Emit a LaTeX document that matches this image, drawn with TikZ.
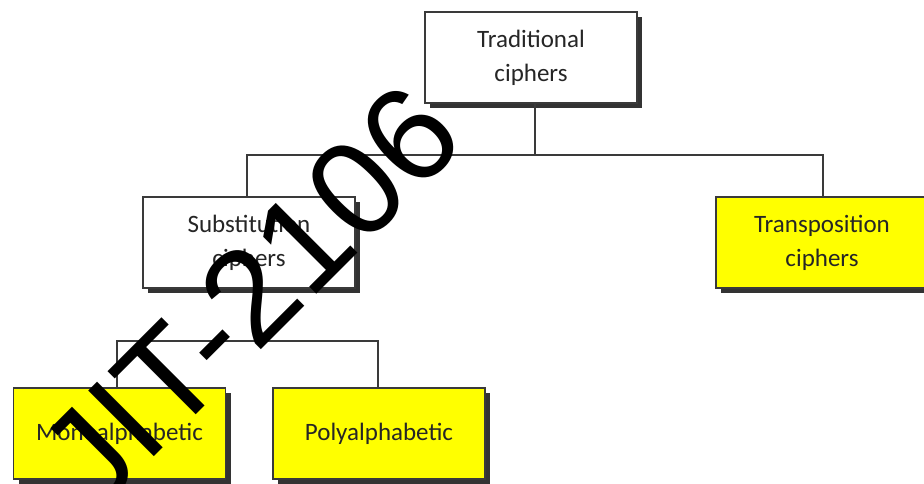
\documentclass[tikz,border=0pt]{standalone}
\usepackage{fontspec}
\setmainfont{Carlito}
\newfontfamily\markfont{Liberation Sans}
\usetikzlibrary{shadows}
\definecolor{boxline}{HTML}{3A3A3A}
\definecolor{boxtext}{HTML}{262626}
\definecolor{cipheryellow}{HTML}{FFFF00}
\tikzset{
  cbox/.style={draw=boxline, line width=1.2pt, minimum width=212pt, minimum height=91pt,
    inner sep=0pt, align=center, text=boxtext, font=\fontsize{25}{34}\selectfont,
    drop shadow={shadow xshift=5pt, shadow yshift=-5pt, fill=black!80, opacity=1}},
  plainbox/.style={cbox, fill=white},
  yellowbox/.style={cbox, fill=cipheryellow},
  link/.style={draw=boxline, line width=1.6pt}
}
\begin{document}
\begin{tikzpicture}[x=1pt, y=1pt]
  \clip (0,0) rectangle (924,484);
  \fill[white] (0,0) rectangle (924,484);

  % junction points of the two branch bars
  \coordinate (top) at (535,329);
  \coordinate (mid) at (247,143);

  % cipher boxes
  \node[plainbox] (trad) at (531,426.5) {Traditional\\ciphers};
  \node[plainbox] (subs) at (249,241.5) {Substitution\\ciphers};
  \node[yellowbox] (trans) at (822,241.5) {Transposition\\ciphers};
  \node[yellowbox] (mono) at (119.5,50.5) {Monoalphabetic};
  \node[yellowbox] (poly) at (379,50.5) {Polyalphabetic};

  % branch lines
  \draw[link] (trad.south -| top) -- (top);
  \draw[link] (top) -| ([xshift=-2pt]subs.north);
  \draw[link] (top) -| ([xshift=1pt]trans.north);
  \draw[link] ([xshift=-2.5pt]mono.north) |- (mid) -| ([xshift=-1pt]poly.north);

  % stamped mark across the chart
  \node[anchor=base, rotate=45, inner sep=0pt, text=black,
        font=\markfont\fontsize{135}{135}\selectfont] (stamp) at (283,156) {JIT-2106};
\end{tikzpicture}
\end{document}
